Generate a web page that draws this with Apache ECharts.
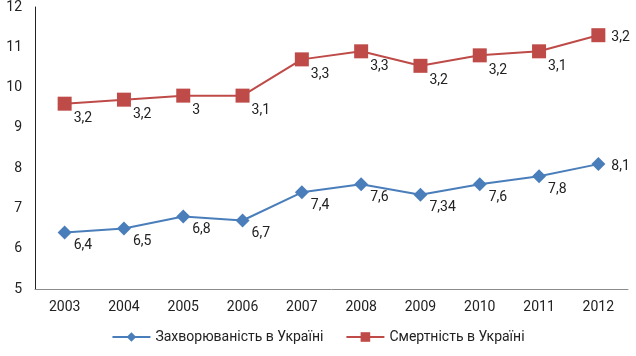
<!DOCTYPE html>
<html><head><meta charset="utf-8">
<script src="https://cdn.jsdelivr.net/npm/echarts@6/dist/echarts.min.js"></script>
<style>html,body{margin:0;padding:0;background:#fff}#c{width:636px;height:356px}</style>
</head><body><div id="c"></div>
<script>
const years = ['2003','2004','2005','2006','2007','2008','2009','2010','2011','2012'];
const morbidity = [6.4, 6.5, 6.8, 6.7, 7.4, 7.6, 7.34, 7.6, 7.8, 8.1];
const mortality = [3.2, 3.2, 3, 3.1, 3.3, 3.3, 3.2, 3.2, 3.1, 3.2];
const seriesNames = ['Захворюваність в Україні', 'Смертність в Україні'];
const yTicks = {min: 5, max: 12, interval: 1};

const fmt = p => String(p.value).replace('.', ',');
function buildData(arr) {
  return arr.map((v, i) => i === arr.length - 1
    ? {value: v, label: {position: 'right', offset: [4, 2]}}
    : v);
}
const font = 'Roboto, "DejaVu Sans", sans-serif';
const chart = echarts.init(document.getElementById('c'));
chart.setOption({
  animation: false,
  textStyle: {fontFamily: font},
  grid: {left: 35, right: 8, top: 6, bottom: 67},
  legend: {
    bottom: 7, left: 'center', itemWidth: 38, itemHeight: 12, itemGap: 22,
    textStyle: {fontSize: 14, color: '#222', fontFamily: font},
    data: seriesNames
  },
  xAxis: {
    type: 'category', data: years, boundaryGap: true,
    axisLine: {lineStyle: {color: '#8c8c8c', width: 1}},
    axisTick: {show: false},
    axisLabel: {color: '#222', fontSize: 14, margin: 11, fontFamily: font}
  },
  yAxis: {
    type: 'value', min: yTicks.min, max: yTicks.max, interval: yTicks.interval,
    axisLine: {show: true, lineStyle: {color: '#222', width: 1}},
    axisTick: {show: false},
    splitLine: {show: false},
    axisLabel: {color: '#222', fontSize: 14, margin: 13, fontFamily: font}
  },
  series: [
    {
      name: seriesNames[0], type: 'line', stack: 'total', data: buildData(morbidity),
      symbol: 'diamond', symbolSize: 14,
      itemStyle: {color: '#4a7ebb'}, lineStyle: {color: '#4a7ebb', width: 2},
      label: {show: true, position: 'right', distance: 2, offset: [0, 13], formatter: fmt,
              color: '#222', fontSize: 14, fontFamily: font}
    },
    {
      name: seriesNames[1], type: 'line', stack: 'total', data: buildData(mortality),
      symbol: 'rect', symbolSize: 14,
      itemStyle: {color: '#be4b48'}, lineStyle: {color: '#be4b48', width: 2},
      label: {show: true, position: 'right', distance: 2, offset: [0, 15], formatter: fmt,
              color: '#222', fontSize: 14, fontFamily: font}
    }
  ]
});
</script></body></html>
